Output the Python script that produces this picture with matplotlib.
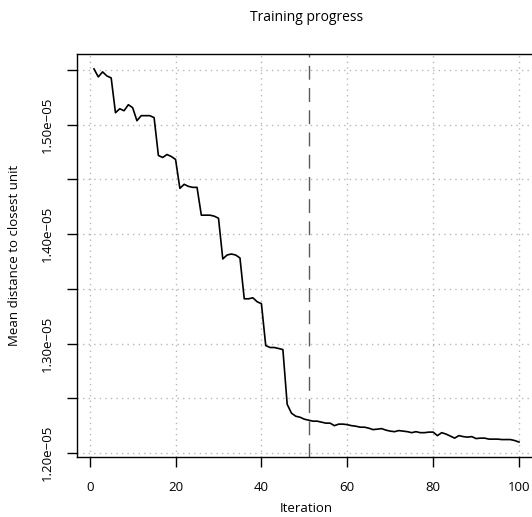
import numpy as np
import matplotlib
matplotlib.use("Agg")
import matplotlib.pyplot as plt

plt.rcParams['font.family'] = ['Open Sans', 'DejaVu Sans']

# mean distance to closest unit, in units of 1e-05, one value per iteration
iterations = np.arange(1, 101)
mean_dist = [
    1.5509, 1.5436, 1.5482, 1.5445, 1.5427, 1.5109, 1.5145, 1.5127, 1.5182, 1.5155,
    1.5036, 1.5082, 1.5082, 1.5082, 1.5064, 1.4718, 1.4700, 1.4727, 1.4709, 1.4682,
    1.4418, 1.4455, 1.4436, 1.4427, 1.4427, 1.4173, 1.4173, 1.4173, 1.4164, 1.4145,
    1.3773, 1.3809, 1.3818, 1.3809, 1.3782, 1.3409, 1.3409, 1.3418, 1.3382, 1.3364,
    1.2982, 1.2964, 1.2964, 1.2955, 1.2945, 1.2445, 1.2364, 1.2336, 1.2327, 1.2309,
    1.2300, 1.2291, 1.2291, 1.2282, 1.2273, 1.2273, 1.2250, 1.2264, 1.2264, 1.2259,
    1.2250, 1.2245, 1.2236, 1.2236, 1.2227, 1.2214, 1.2218, 1.2223, 1.2209, 1.2200,
    1.2195, 1.2205, 1.2200, 1.2195, 1.2186, 1.2195, 1.2186, 1.2186, 1.2191, 1.2191,
    1.2159, 1.2186, 1.2173, 1.2155, 1.2136, 1.2159, 1.2150, 1.2145, 1.2150, 1.2132,
    1.2136, 1.2136, 1.2127, 1.2127, 1.2127, 1.2123, 1.2123, 1.2123, 1.2114, 1.2100,
]
cut_iter = 51
x_ticks = [0, 20, 40, 60, 80, 100]
y_ticks = [1.20, 1.25, 1.30, 1.35, 1.40, 1.45, 1.50, 1.55]
y_labels = ["1.20e\u221205", "", "1.30e\u221205", "", "1.40e\u221205", "", "1.50e\u221205", ""]

y = np.array(mean_dist) * 1e-5

W, H = 532, 517
fig = plt.figure(figsize=(W / 100, H / 100), dpi=100)
# R style box: right edge falls just outside the picture
ax = fig.add_axes([77 / W, (H - 457) / H, (536 - 77) / W, (457 - 54) / H])

# R extends the data range by 4% on each side
xr = iterations.max() - iterations.min()
ax.set_xlim(iterations.min() - 0.04 * xr, iterations.max() + 0.04 * xr)
yr = y.max() - y.min()
ax.set_ylim(y.min() - 0.04 * yr, y.max() + 0.04 * yr)

for xv in x_ticks:
    ax.axvline(xv, color="#b8b8b8", lw=1.0, ls=(0, (1, 3)), zorder=1)
for yv in y_ticks:
    ax.axhline(yv * 1e-5, color="#b8b8b8", lw=1.0, ls=(0, (1, 3)), zorder=1)

ax.axvline(cut_iter, color="#5a5a5a", lw=1.0, ls=(0, (10, 6)), zorder=2)
ax.plot(iterations, y, color="black", lw=1.2, zorder=3)

ax.set_xticks(x_ticks)
ax.set_yticks([v * 1e-5 for v in y_ticks])
ax.set_yticklabels(y_labels, rotation=90, va="center")
ax.tick_params(axis="both", direction="out", length=7, width=1.0, labelsize=9.5, pad=10)
for s in ax.spines.values():
    s.set_linewidth(1.0)

ax.set_xlabel("Iteration", fontsize=9.5, labelpad=6)
ax.set_ylabel("Mean distance to closest unit", fontsize=9.5, labelpad=14)
ax.set_title("Training progress", fontsize=10, pad=24)

fig.savefig("out.png", dpi=100)
